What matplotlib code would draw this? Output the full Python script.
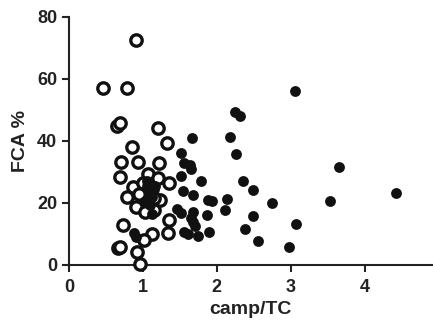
import matplotlib
matplotlib.use("Agg")
import matplotlib.pyplot as plt

# open circles
open_x = [0.455, 0.79, 0.91, 0.65, 0.69, 1.20, 0.85, 1.33, 0.71, 0.93, 1.22,
          0.69, 1.07, 1.20, 1.35, 0.87, 0.78, 0.99, 1.23, 0.91, 1.15, 1.03,
          1.35, 0.73, 1.34, 1.12, 1.01, 0.92, 0.96, 0.67, 0.69, 1.00, 1.13,
          1.15, 0.95]
open_y = [57.0, 57.0, 72.5, 44.8, 45.7, 44.3, 38.0, 39.3, 33.1, 33.3, 33.0,
          28.5, 29.3, 28.0, 26.4, 25.3, 22.0, 22.1, 20.8, 18.7, 17.7, 17.0,
          14.6, 12.8, 10.4, 10.0, 8.0, 4.3, 0.3, 5.4, 5.9, 26.5, 24.5,
          21.5, 23.0]

# filled circles
fill_x = [3.05, 2.24, 2.31, 2.18, 1.67, 2.26, 1.52, 1.55, 1.64, 1.65, 1.79,
          1.51, 2.36, 2.49, 1.54, 1.68, 1.88, 1.94, 2.14, 2.11, 2.75, 1.46,
          1.51, 1.68, 1.65, 1.68, 1.70, 1.87, 2.49, 3.07, 2.38, 1.56, 1.61,
          1.75, 1.89, 2.55, 2.98, 3.65, 3.53, 4.42,
          1.05, 1.08, 1.12, 1.03, 1.10, 1.06, 1.12, 0.88, 0.91, 1.17]
fill_y = [56.1, 49.5, 47.9, 41.4, 40.9, 35.8, 36.2, 32.8, 32.3, 30.9, 27.0,
          28.6, 27.2, 24.2, 24.0, 22.5, 21.0, 20.5, 21.3, 17.6, 19.9, 18.2,
          16.7, 17.2, 15.0, 14.0, 12.5, 16.2, 15.8, 13.1, 11.6, 10.7, 9.9,
          9.2, 10.5, 7.8, 5.8, 31.5, 20.7, 23.1,
          25.5, 23.5, 22.0, 20.5, 19.5, 27.0, 16.5, 10.2, 8.9, 25.5]

xticks = [0, 1, 2, 3, 4]
yticks = [0, 20, 40, 60, 80]

plt.rcParams['font.family'] = ['Liberation Sans', 'DejaVu Sans']
fig = plt.figure(figsize=(4.33, 3.2), dpi=100)
ax = fig.add_axes([0.159, 0.172, 0.839, 0.775])

ax.plot(open_x, open_y, 'o', markersize=8.2, markerfacecolor='white',
        markeredgecolor='#111111', markeredgewidth=2.4, clip_on=False, zorder=3)
ax.plot(fill_x, fill_y, 'o', markersize=7.8, color='#111111',
        markeredgewidth=0, clip_on=False, zorder=4)

ax.set_xlim(0, 4.91)
ax.set_ylim(0, 80)
ax.set_xticks(xticks)
ax.set_yticks(yticks)
ax.spines['top'].set_visible(False)
ax.spines['right'].set_visible(False)
for s in ['left', 'bottom']:
    ax.spines[s].set_linewidth(1.5)
    ax.spines[s].set_color('#222222')
ax.tick_params(width=1.5, length=5, color='#222222', labelsize=13)
ax.tick_params(axis='x', pad=5)
for lab in ax.get_xticklabels() + ax.get_yticklabels():
    lab.set_fontweight('bold')
    lab.set_color('#222222')

ax.set_xlabel('camp/TC', fontsize=14, fontweight='bold', color='#222222', labelpad=4)
ax.set_ylabel('FCA %', fontsize=14, fontweight='bold', color='#222222', labelpad=6)

fig.savefig('out.png', dpi=100)
